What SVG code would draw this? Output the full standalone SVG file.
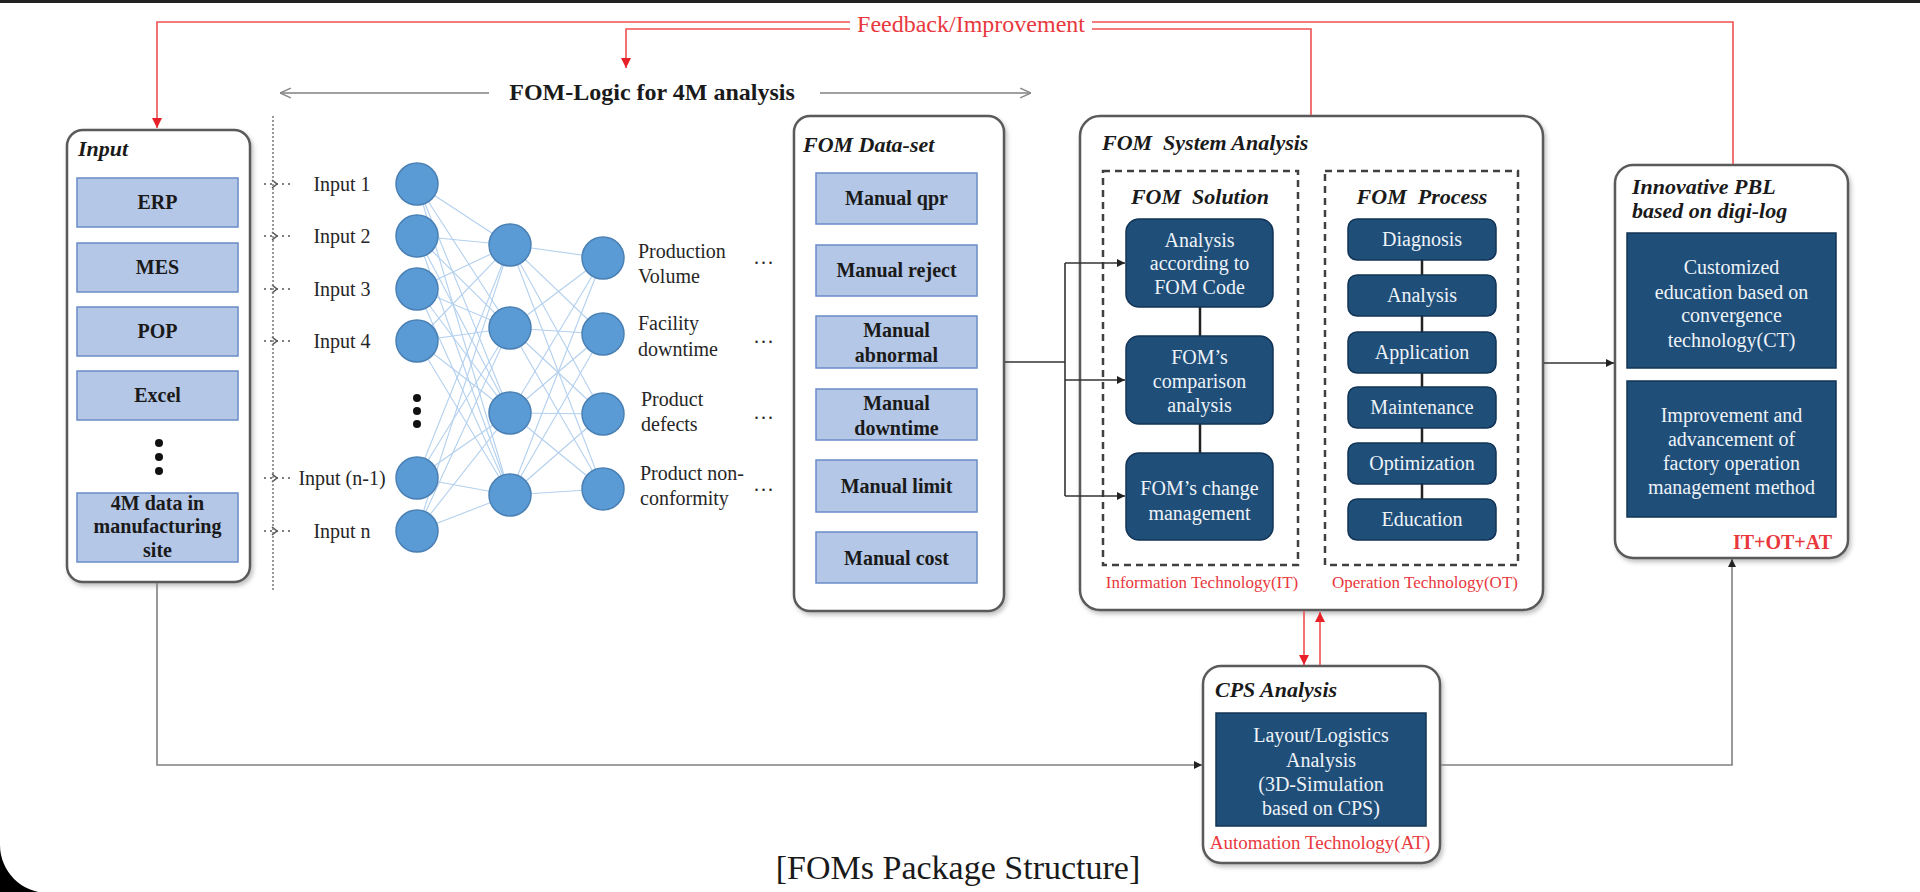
<svg xmlns="http://www.w3.org/2000/svg" width="1920" height="892" viewBox="0 0 1920 892">
<defs>
<style>
.box{fill:#fff;stroke:#5a5a5a;stroke-width:2.5;filter:url(#sh)}
.lb{fill:#b4c7e7;stroke:#6a8cc7;stroke-width:1.5}
.db{fill:#1f4e79;stroke:#123456;stroke-width:1.5}
.dash{fill:none;stroke:#404040;stroke-width:2.5;stroke-dasharray:7 5}
.t{font-family:"Liberation Serif",serif;fill:#1a1a1a}
.ttl{font-family:"Liberation Serif",serif;font-weight:bold;font-style:italic;font-size:22px;fill:#1a1a1a}
.lbt{font-family:"Liberation Serif",serif;font-weight:bold;font-size:20px;fill:#1a1a1a;text-anchor:middle}
.wt{font-family:"Liberation Serif",serif;font-size:20px;fill:#eef3f8;text-anchor:middle}
.nt{font-family:"Liberation Serif",serif;font-size:20px;fill:#262626}
.red{font-family:"Liberation Serif",serif;fill:#e8383d}
.node{fill:#5b9bd5;stroke:#4a80b4;stroke-width:1.5}
.nn{stroke:#b3d0ee;stroke-width:1.1}
.ln{fill:none;stroke:#333;stroke-width:1.6}
.gl{fill:none;stroke:#808080;stroke-width:1.6}
.rl{fill:none;stroke:#ef5050;stroke-width:1.6}
.dot{fill:#111}
</style>
<filter id="sh" x="-10%" y="-10%" width="130%" height="130%"><feDropShadow dx="2" dy="3" stdDeviation="2" flood-color="#777" flood-opacity="0.45"/></filter>
<marker id="ab" viewBox="0 0 10 10" refX="10" refY="5" markerWidth="8" markerHeight="8" orient="auto" markerUnits="userSpaceOnUse"><path d="M0,0 L10,5 L0,10 Z" fill="#222"/></marker>
<marker id="ar" viewBox="0 0 10 10" refX="10" refY="5" markerWidth="10" markerHeight="10" orient="auto" markerUnits="userSpaceOnUse"><path d="M0,0 L10,5 L0,10 Z" fill="#e8202a"/></marker>
<marker id="ao" viewBox="0 0 10 10" refX="10" refY="5" markerWidth="12" markerHeight="12" orient="auto" markerUnits="userSpaceOnUse"><path d="M1,1 L10,5 L1,9" fill="none" stroke="#888" stroke-width="1.2"/></marker>
</defs>
<rect x="0" y="0" width="1920" height="892" fill="#fff"/>
<rect x="0" y="0" width="1920" height="3" fill="#222"/>
<path d="M0,845 A48,48 0 0 0 48,893 L0,893 Z" fill="#000"/>

<g id="input">
  <rect class="box" x="67" y="130" width="183" height="452" rx="16"/>
  <text class="ttl" x="78" y="156">Input</text>
  <rect class="lb" x="77" y="178" width="161" height="49"/>
  <text class="lbt" x="157.5" y="209">ERP</text>
  <rect class="lb" x="77" y="243" width="161" height="49"/>
  <text class="lbt" x="157.5" y="274">MES</text>
  <rect class="lb" x="77" y="307" width="161" height="49"/>
  <text class="lbt" x="157.5" y="338">POP</text>
  <rect class="lb" x="77" y="371" width="161" height="49"/>
  <text class="lbt" x="157.5" y="402">Excel</text>
  <circle class="dot" cx="159" cy="443" r="4"/>
  <circle class="dot" cx="159" cy="457" r="4"/>
  <circle class="dot" cx="159" cy="471" r="4"/>
  <rect class="lb" x="77" y="493" width="161" height="69"/>
  <text class="lbt" x="157.5" y="510">4M data in</text>
  <text class="lbt" x="157.5" y="533">manufacturing</text>
  <text class="lbt" x="157.5" y="557">site</text>
</g>

<g id="input-labels">
  <g stroke="#555" stroke-width="1.6" fill="none">
    <line x1="264" y1="184" x2="290" y2="184" stroke-dasharray="2 4"/><polyline points="272,180 277,184 272,188"/>
    <line x1="264" y1="236" x2="290" y2="236" stroke-dasharray="2 4"/><polyline points="272,232 277,236 272,240"/>
    <line x1="264" y1="289" x2="290" y2="289" stroke-dasharray="2 4"/><polyline points="272,285 277,289 272,293"/>
    <line x1="264" y1="341" x2="290" y2="341" stroke-dasharray="2 4"/><polyline points="272,337 277,341 272,345"/>
    <line x1="264" y1="478" x2="290" y2="478" stroke-dasharray="2 4"/><polyline points="272,474 277,478 272,482"/>
    <line x1="264" y1="531" x2="290" y2="531" stroke-dasharray="2 4"/><polyline points="272,527 277,531 272,535"/>
  </g>
  <text class="nt" x="342" y="191" text-anchor="middle">Input 1</text>
  <text class="nt" x="342" y="243" text-anchor="middle">Input 2</text>
  <text class="nt" x="342" y="296" text-anchor="middle">Input 3</text>
  <text class="nt" x="342" y="348" text-anchor="middle">Input 4</text>
  <text class="nt" x="342" y="485" text-anchor="middle">Input (n-1)</text>
  <text class="nt" x="342" y="538" text-anchor="middle">Input n</text>
</g>

<g id="nn-links">
  <g class="nn">
    <line x1="417" y1="184" x2="510" y2="245"/><line x1="417" y1="184" x2="510" y2="328"/><line x1="417" y1="184" x2="510" y2="413"/><line x1="417" y1="184" x2="510" y2="495"/>
    <line x1="417" y1="236" x2="510" y2="245"/><line x1="417" y1="236" x2="510" y2="328"/><line x1="417" y1="236" x2="510" y2="413"/><line x1="417" y1="236" x2="510" y2="495"/>
    <line x1="417" y1="289" x2="510" y2="245"/><line x1="417" y1="289" x2="510" y2="328"/><line x1="417" y1="289" x2="510" y2="413"/><line x1="417" y1="289" x2="510" y2="495"/>
    <line x1="417" y1="341" x2="510" y2="245"/><line x1="417" y1="341" x2="510" y2="328"/><line x1="417" y1="341" x2="510" y2="413"/><line x1="417" y1="341" x2="510" y2="495"/>
    <line x1="417" y1="478" x2="510" y2="245"/><line x1="417" y1="478" x2="510" y2="328"/><line x1="417" y1="478" x2="510" y2="413"/><line x1="417" y1="478" x2="510" y2="495"/>
    <line x1="417" y1="531" x2="510" y2="245"/><line x1="417" y1="531" x2="510" y2="328"/><line x1="417" y1="531" x2="510" y2="413"/><line x1="417" y1="531" x2="510" y2="495"/>
    <line x1="510" y1="245" x2="603" y2="258"/><line x1="510" y1="245" x2="603" y2="334"/><line x1="510" y1="245" x2="603" y2="414"/><line x1="510" y1="245" x2="603" y2="489"/>
    <line x1="510" y1="328" x2="603" y2="258"/><line x1="510" y1="328" x2="603" y2="334"/><line x1="510" y1="328" x2="603" y2="414"/><line x1="510" y1="328" x2="603" y2="489"/>
    <line x1="510" y1="413" x2="603" y2="258"/><line x1="510" y1="413" x2="603" y2="334"/><line x1="510" y1="413" x2="603" y2="414"/><line x1="510" y1="413" x2="603" y2="489"/>
    <line x1="510" y1="495" x2="603" y2="258"/><line x1="510" y1="495" x2="603" y2="334"/><line x1="510" y1="495" x2="603" y2="414"/><line x1="510" y1="495" x2="603" y2="489"/>
  </g>
</g>

<g id="nn-nodes">
  <circle class="node" cx="417" cy="184" r="21"/>
  <circle class="node" cx="417" cy="236" r="21"/>
  <circle class="node" cx="417" cy="289" r="21"/>
  <circle class="node" cx="417" cy="341" r="21"/>
  <circle class="dot" cx="417" cy="398" r="4"/>
  <circle class="dot" cx="417" cy="411" r="4"/>
  <circle class="dot" cx="417" cy="424" r="4"/>
  <circle class="node" cx="417" cy="478" r="21"/>
  <circle class="node" cx="417" cy="531" r="21"/>
  <circle class="node" cx="510" cy="245" r="21"/>
  <circle class="node" cx="510" cy="328" r="21"/>
  <circle class="node" cx="510" cy="413" r="21"/>
  <circle class="node" cx="510" cy="495" r="21"/>
  <circle class="node" cx="603" cy="258" r="21"/>
  <circle class="node" cx="603" cy="334" r="21"/>
  <circle class="node" cx="603" cy="414" r="21"/>
  <circle class="node" cx="603" cy="489" r="21"/>
</g>

<g id="nn-outputs">
  <text class="nt" x="638" y="258">Production</text>
  <text class="nt" x="638" y="283">Volume</text>
  <text class="nt" x="638" y="330">Facility</text>
  <text class="nt" x="638" y="356">downtime</text>
  <text class="nt" x="641" y="406">Product</text>
  <text class="nt" x="641" y="431">defects</text>
  <text class="nt" x="640" y="480">Product non-</text>
  <text class="nt" x="640" y="505">conformity</text>
  <text class="nt" x="754" y="264" letter-spacing="2">...</text>
  <text class="nt" x="754" y="343" letter-spacing="2">...</text>
  <text class="nt" x="754" y="419" letter-spacing="2">...</text>
  <text class="nt" x="754" y="491" letter-spacing="2">...</text>
</g>

<g id="dataset">
  <rect class="box" x="794" y="116" width="210" height="495" rx="16"/>
  <text class="ttl" x="803" y="152">FOM Data-set</text>
  <rect class="lb" x="816" y="173" width="161" height="51"/>
  <text class="lbt" x="896.5" y="205">Manual qpr</text>
  <rect class="lb" x="816" y="245" width="161" height="51"/>
  <text class="lbt" x="896.5" y="277">Manual reject</text>
  <rect class="lb" x="816" y="316" width="161" height="52"/>
  <text class="lbt" x="896.5" y="337">Manual</text>
  <text class="lbt" x="896.5" y="362">abnormal</text>
  <rect class="lb" x="816" y="389" width="161" height="51"/>
  <text class="lbt" x="896.5" y="410">Manual</text>
  <text class="lbt" x="896.5" y="435">downtime</text>
  <rect class="lb" x="816" y="460" width="161" height="52"/>
  <text class="lbt" x="896.5" y="493">Manual limit</text>
  <rect class="lb" x="816" y="532" width="161" height="51"/>
  <text class="lbt" x="896.5" y="565">Manual cost</text>
</g>

<g id="system-analysis">
  <rect class="box" x="1080" y="116" width="463" height="494" rx="20"/>
  <text class="ttl" x="1102" y="150">FOM&#160; System Analysis</text>
  <rect class="dash" x="1103" y="171" width="195" height="394"/>
  <text class="ttl" x="1200" y="204" text-anchor="middle">FOM&#160; Solution</text>
  <rect class="dash" x="1325" y="171" width="193" height="394"/>
  <text class="ttl" x="1422" y="204" text-anchor="middle">FOM&#160; Process</text>
  <line x1="1200" y1="307" x2="1200" y2="336" stroke="#222" stroke-width="2.5"/>
  <line x1="1200" y1="424" x2="1200" y2="453" stroke="#222" stroke-width="2.5"/>
  <line x1="1422" y1="260" x2="1422" y2="499" stroke="#222" stroke-width="2.5"/>
  <rect class="db" x="1126" y="219" width="147" height="88" rx="13"/>
  <text class="wt" x="1199.5" y="247">Analysis</text>
  <text class="wt" x="1199.5" y="270">according to</text>
  <text class="wt" x="1199.5" y="294">FOM Code</text>
  <rect class="db" x="1126" y="336" width="147" height="88" rx="13"/>
  <text class="wt" x="1199.5" y="364">FOM’s</text>
  <text class="wt" x="1199.5" y="388">comparison</text>
  <text class="wt" x="1199.5" y="412">analysis</text>
  <rect class="db" x="1126" y="453" width="147" height="87" rx="13"/>
  <text class="wt" x="1199.5" y="495">FOM’s change</text>
  <text class="wt" x="1199.5" y="520">management</text>
  <rect class="db" x="1348" y="219" width="148" height="41" rx="9"/>
  <text class="wt" x="1422" y="246">Diagnosis</text>
  <rect class="db" x="1348" y="275" width="148" height="41" rx="9"/>
  <text class="wt" x="1422" y="302">Analysis</text>
  <rect class="db" x="1348" y="332" width="148" height="41" rx="9"/>
  <text class="wt" x="1422" y="359">Application</text>
  <rect class="db" x="1348" y="387" width="148" height="41" rx="9"/>
  <text class="wt" x="1422" y="414">Maintenance</text>
  <rect class="db" x="1348" y="443" width="148" height="41" rx="9"/>
  <text class="wt" x="1422" y="470">Optimization</text>
  <rect class="db" x="1348" y="499" width="148" height="41" rx="9"/>
  <text class="wt" x="1422" y="526">Education</text>
  <text class="red" x="1202" y="588" font-size="17" text-anchor="middle">Information Technology(IT)</text>
  <text class="red" x="1425" y="588" font-size="17" text-anchor="middle">Operation Technology(OT)</text>
</g>

<g id="pbl">
  <rect class="box" x="1615" y="165" width="233" height="393" rx="18"/>
  <text class="ttl" x="1632" y="194">Innovative PBL</text>
  <text class="ttl" x="1632" y="218">based on digi-log</text>
  <rect class="db" x="1627" y="233" width="209" height="135"/>
  <text class="wt" x="1731.5" y="274">Customized</text>
  <text class="wt" x="1731.5" y="299">education based on</text>
  <text class="wt" x="1731.5" y="322">convergence</text>
  <text class="wt" x="1731.5" y="347">technology(CT)</text>
  <rect class="db" x="1627" y="381" width="209" height="136"/>
  <text class="wt" x="1731.5" y="422">Improvement and</text>
  <text class="wt" x="1731.5" y="446">advancement of</text>
  <text class="wt" x="1731.5" y="470">factory operation</text>
  <text class="wt" x="1731.5" y="494">management method</text>
  <text class="red" x="1832" y="549" font-size="20" font-weight="bold" text-anchor="end">IT+OT+AT</text>
</g>

<g id="cps">
  <rect class="box" x="1203" y="666" width="237" height="197" rx="18"/>
  <text class="ttl" x="1215" y="697" font-size="21">CPS Analysis</text>
  <rect class="db" x="1216" y="713" width="210" height="113"/>
  <text class="wt" x="1321" y="742">Layout/Logistics</text>
  <text class="wt" x="1321" y="767">Analysis</text>
  <text class="wt" x="1321" y="791">(3D-Simulation</text>
  <text class="wt" x="1321" y="815">based on CPS)</text>
  <text class="red" x="1320" y="849" font-size="19" text-anchor="middle">Automation Technology(AT)</text>
</g>

<g id="connectors">
  <polyline class="rl" points="1733,164 1733,22 157,22 157,128" marker-end="url(#ar)"/>
  <polyline class="rl" points="1311,115 1311,29 626,29 626,68" marker-end="url(#ar)"/>
  <line class="rl" x1="1304" y1="611" x2="1304" y2="665" marker-end="url(#ar)"/>
  <line class="rl" x1="1320" y1="665" x2="1320" y2="612" marker-end="url(#ar)"/>
  <polyline class="ln" points="1005,362 1065,362"/>
  <line class="ln" x1="1065" y1="263" x2="1065" y2="496"/>
  <line class="ln" x1="1065" y1="263" x2="1125" y2="263" marker-end="url(#ab)"/>
  <line class="ln" x1="1065" y1="380" x2="1125" y2="380" marker-end="url(#ab)"/>
  <line class="ln" x1="1065" y1="496" x2="1125" y2="496" marker-end="url(#ab)"/>
  <line class="ln" x1="1544" y1="363" x2="1614" y2="363" marker-end="url(#ab)"/>
  <polyline class="gl" points="157,583 157,765 1202,765" marker-end="url(#ab)"/>
  <polyline class="gl" points="1441,765 1732,765 1732,559" marker-end="url(#ab)"/>
  <line x1="273" y1="116" x2="273" y2="590" stroke="#777" stroke-width="1.5" stroke-dasharray="2 2"/>
  <line class="gl" x1="489" y1="93" x2="280" y2="93" marker-end="url(#ao)"/>
  <line class="gl" x1="820" y1="93" x2="1031" y2="93" marker-end="url(#ao)"/>
</g>

<g id="feedback-label">
  <rect x="850" y="8" width="242" height="34" fill="#fff"/>
  <text class="red" x="971" y="32" font-size="24" text-anchor="middle">Feedback/Improvement</text>
</g>
<g id="logic-label">
  <text class="t" x="652" y="100" font-size="24" font-weight="bold" text-anchor="middle">FOM-Logic for 4M analysis</text>
</g>

<g id="caption">
  <text class="t" x="958" y="879" font-size="34" text-anchor="middle">[FOMs Package Structure]</text>
</g>
</svg>
